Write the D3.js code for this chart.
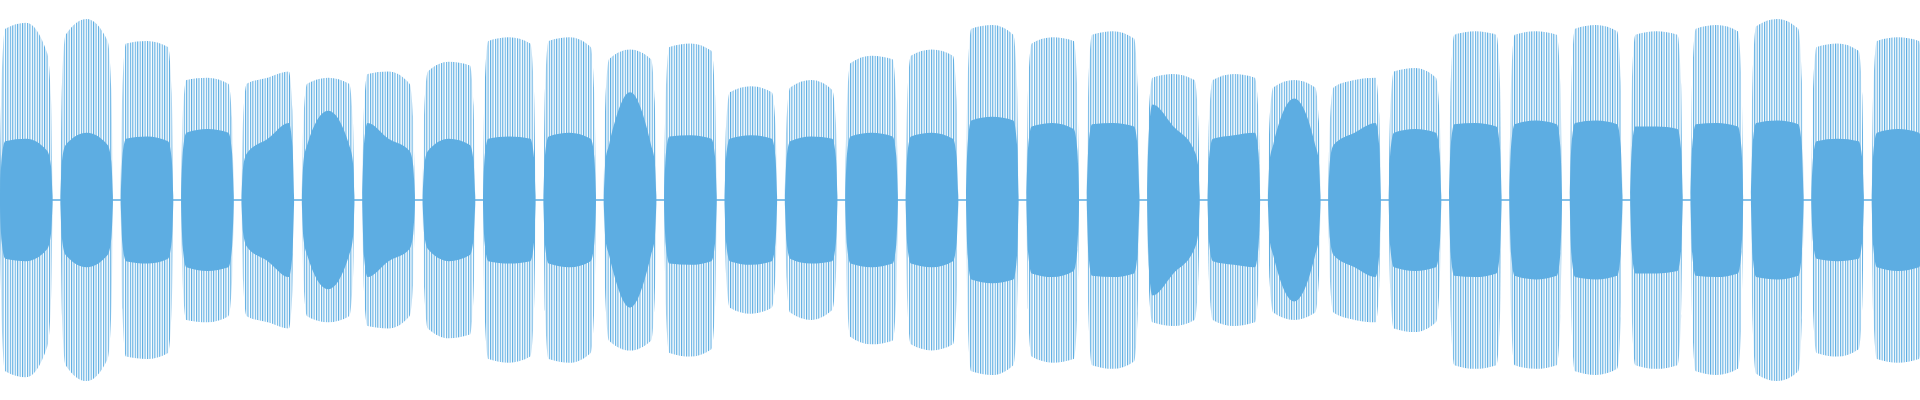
<!DOCTYPE html><html><head><meta charset="utf-8">
<script src="https://cdn.jsdelivr.net/npm/d3@7"></script>
<style>html,body{margin:0;padding:0;background:#fff}</style></head><body>
<svg id="c" width="1920" height="400"></svg>
<script>
// burst index (one per second of audio)
const bursts = d3.range(32);
// dense core envelope per burst: start, middle, end amplitude
const innerStart = [48,45,50,55,38,45,63,40,50,52,45,52,50,48,52,52,65,60,62,78,50,45,45,55,62,62,63,60,62,63,48,55];
const innerMid   = [50,55,52,58,50,73,50,50,52,55,88,53,53,52,55,55,68,63,63,60,53,83,55,58,63,65,65,60,63,65,50,58];
const innerEnd   = [40,45,48,55,63,45,40,45,50,50,45,50,50,50,52,50,65,58,60,40,55,45,63,55,60,62,62,58,60,62,48,55];
// outer spike envelope per burst: start, middle, end amplitude
const outerStart = [140,135,128,98,95,95,103,105,130,130,115,125,88,92,112,118,140,128,135,100,98,92,92,105,135,135,140,135,140,142,125,130];
const outerMid   = [145,148,130,100,100,100,105,113,133,133,123,128,93,98,118,123,143,133,138,103,103,98,98,108,138,138,143,138,143,148,128,133];
const outerEnd   = [120,130,125,95,105,95,95,110,128,125,115,122,88,90,115,118,135,130,132,98,100,92,100,100,135,135,138,135,138,140,122,130];

const W=1920,H=400;
const svg=d3.select('#c');
const x=d3.scaleLinear().domain([0,31.8]).range([0,W]);
const y=d3.scaleLinear().domain([-163.5,163.5]).range([H,0]);
const col='#5dade2';
const dur=0.87;

const defs=svg.append('defs');
const pat=defs.append('pattern').attr('id','stripes').attr('patternUnits','userSpaceOnUse')
  .attr('width',2.45).attr('height',H);
pat.append('rect').attr('x',0).attr('y',0).attr('width',1.1).attr('height',H).attr('fill',col);

// baseline hum between bursts
svg.append('line').attr('x1',0).attr('x2',W).attr('y1',y(0)).attr('y2',y(0))
  .attr('stroke',col).attr('stroke-width',1.5);

const fr=[0,0.03,0.1,0.5,0.9,0.97,1];
function pts(i,s,m,e){
  const v=[3,s*0.7,s,m,e,e*0.7,3];
  return fr.map((f,k)=>({t:bursts[i]+f*dur,a:v[k]}));
}
const area=d3.area().x(d=>x(d.t)).y0(d=>y(-d.a)).y1(d=>y(d.a)).curve(d3.curveMonotoneX);

bursts.forEach(i=>{
  svg.append('path').attr('d',area(pts(i,outerStart[i],outerMid[i],outerEnd[i])))
    .attr('fill','url(#stripes)');
  svg.append('path').attr('d',area(pts(i,innerStart[i],innerMid[i],innerEnd[i])))
    .attr('fill',col);
});
</script></body></html>
